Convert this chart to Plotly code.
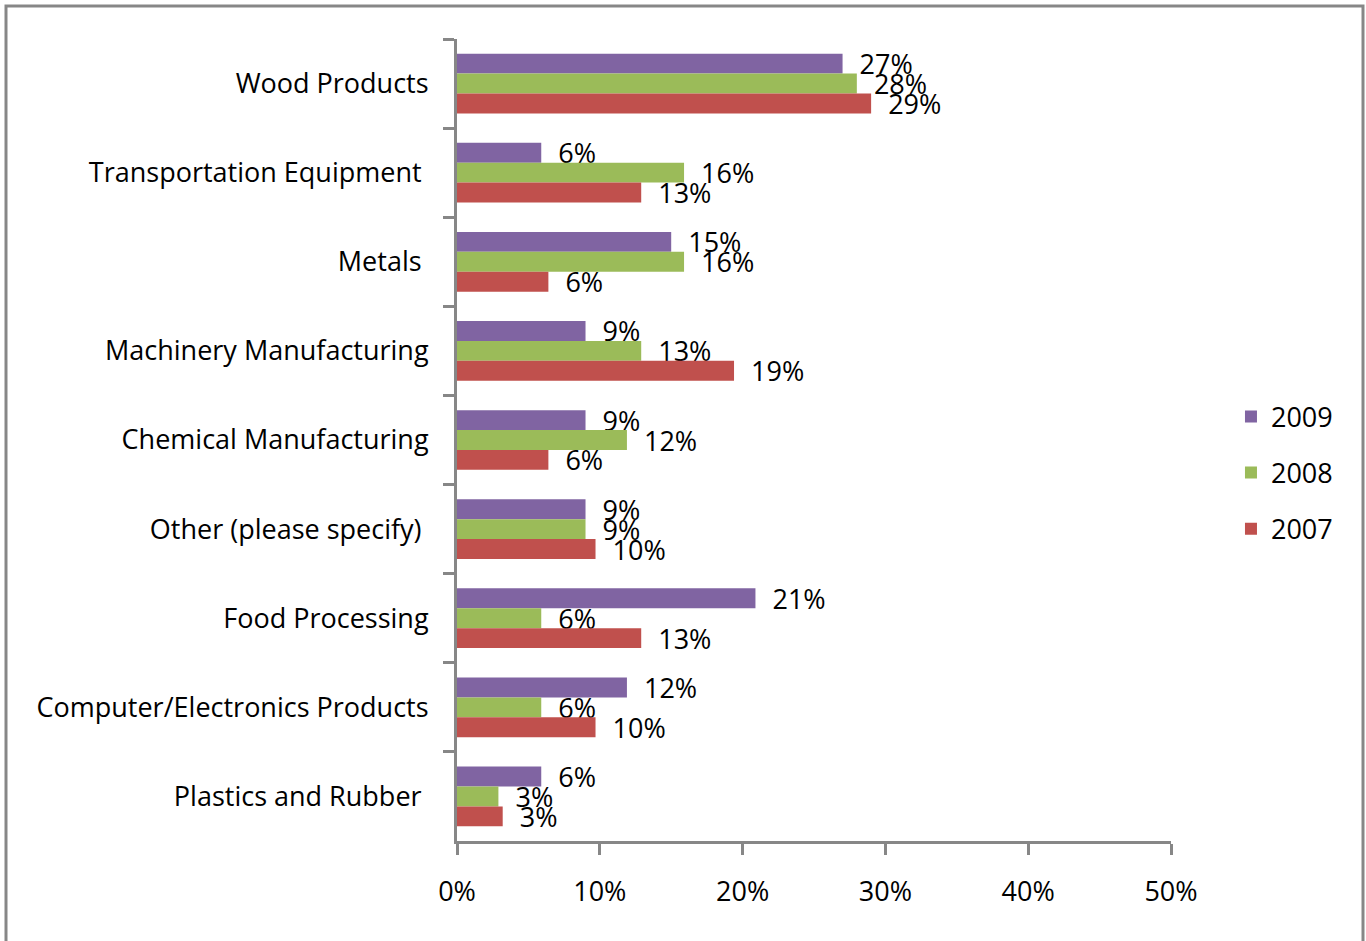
import plotly.graph_objects as go

# Industry categories, listed top to bottom as shown on the chart
categories = [
    "Wood Products",
    "Transportation Equipment ",
    "Metals ",
    "Machinery Manufacturing",
    "Chemical Manufacturing",
    "Other (please specify) ",
    "Food Processing",
    "Computer/Electronics Products",
    "Plastics and Rubber ",
]

# Share of respondents by year (fractions)
share_2009 = [0.270, 0.059, 0.150, 0.090, 0.090, 0.090, 0.209, 0.119, 0.059]
share_2008 = [0.280, 0.159, 0.159, 0.129, 0.119, 0.090, 0.059, 0.059, 0.029]
share_2007 = [0.290, 0.129, 0.064, 0.194, 0.064, 0.097, 0.129, 0.097, 0.032]

series = [
    ("2009", share_2009, "#8064A2"),
    ("2008", share_2008, "#9BBB59"),
    ("2007", share_2007, "#C0504D"),
]

FONT = "Open Sans"
AXIS_GRAY = "#878787"

fig = go.Figure()
for name, vals, color in series:
    fig.add_trace(go.Bar(
        y=categories,
        x=vals,
        name=name,
        orientation="h",
        marker=dict(color=color, line=dict(width=0)),
        texttemplate="  %{x:.0%}",
        textposition="outside",
        constraintext="none",
        cliponaxis=False,
        textfont=dict(family=FONT, size=27, color="#000000"),
        legendgroup=name,
        hoverinfo="x+y+name",
    ))

fig.update_layout(
    width=1366,
    height=941,
    margin=dict(l=457, r=195, t=39, b=100, pad=0),
    paper_bgcolor="#FFFFFF",
    plot_bgcolor="#FFFFFF",
    barmode="group",
    bargap=0.33,
    bargroupgap=0,
    font=dict(family=FONT, size=27, color="#000000"),
    showlegend=True,
    legend=dict(
        x=1.084, xanchor="left",
        y=0.459, yanchor="middle",
        traceorder="grouped",
        tracegroupgap=18,
        font=dict(family=FONT, size=27, color="#000000"),
        bgcolor="rgba(0,0,0,0)",
    ),
    xaxis=dict(
        range=[0, 0.5],
        dtick=0.1,
        tickformat=".0%",
        showgrid=False,
        zeroline=False,
        showline=True,
        linecolor=AXIS_GRAY,
        linewidth=3,
        ticks="outside",
        ticklen=11,
        tickwidth=3,
        tickcolor=AXIS_GRAY,
        ticklabelstandoff=14,
        tickfont=dict(family=FONT, size=27, color="#000000"),
        fixedrange=True,
    ),
    yaxis=dict(
        type="category",
        categoryorder="array",
        categoryarray=categories,
        autorange="reversed",
        showgrid=False,
        zeroline=False,
        showline=True,
        linecolor=AXIS_GRAY,
        linewidth=3,
        ticks="outside",
        tickson="boundaries",
        ticklen=11,
        tickwidth=3,
        tickcolor=AXIS_GRAY,
        ticklabelstandoff=20,
        tickfont=dict(family=FONT, size=27, color="#000000"),
        fixedrange=True,
    ),
    shapes=[
        # chart-area frame
        dict(
            type="rect", xref="paper", yref="paper",
            x0=(6 - 457) / 714, x1=(1363 - 457) / 714,
            y0=(841 - 950) / 802, y1=(841 - 6) / 802,
            line=dict(color=AXIS_GRAY, width=3),
            fillcolor="rgba(0,0,0,0)",
            layer="below",
        )
    ],
)

fig.write_html("out.html")
